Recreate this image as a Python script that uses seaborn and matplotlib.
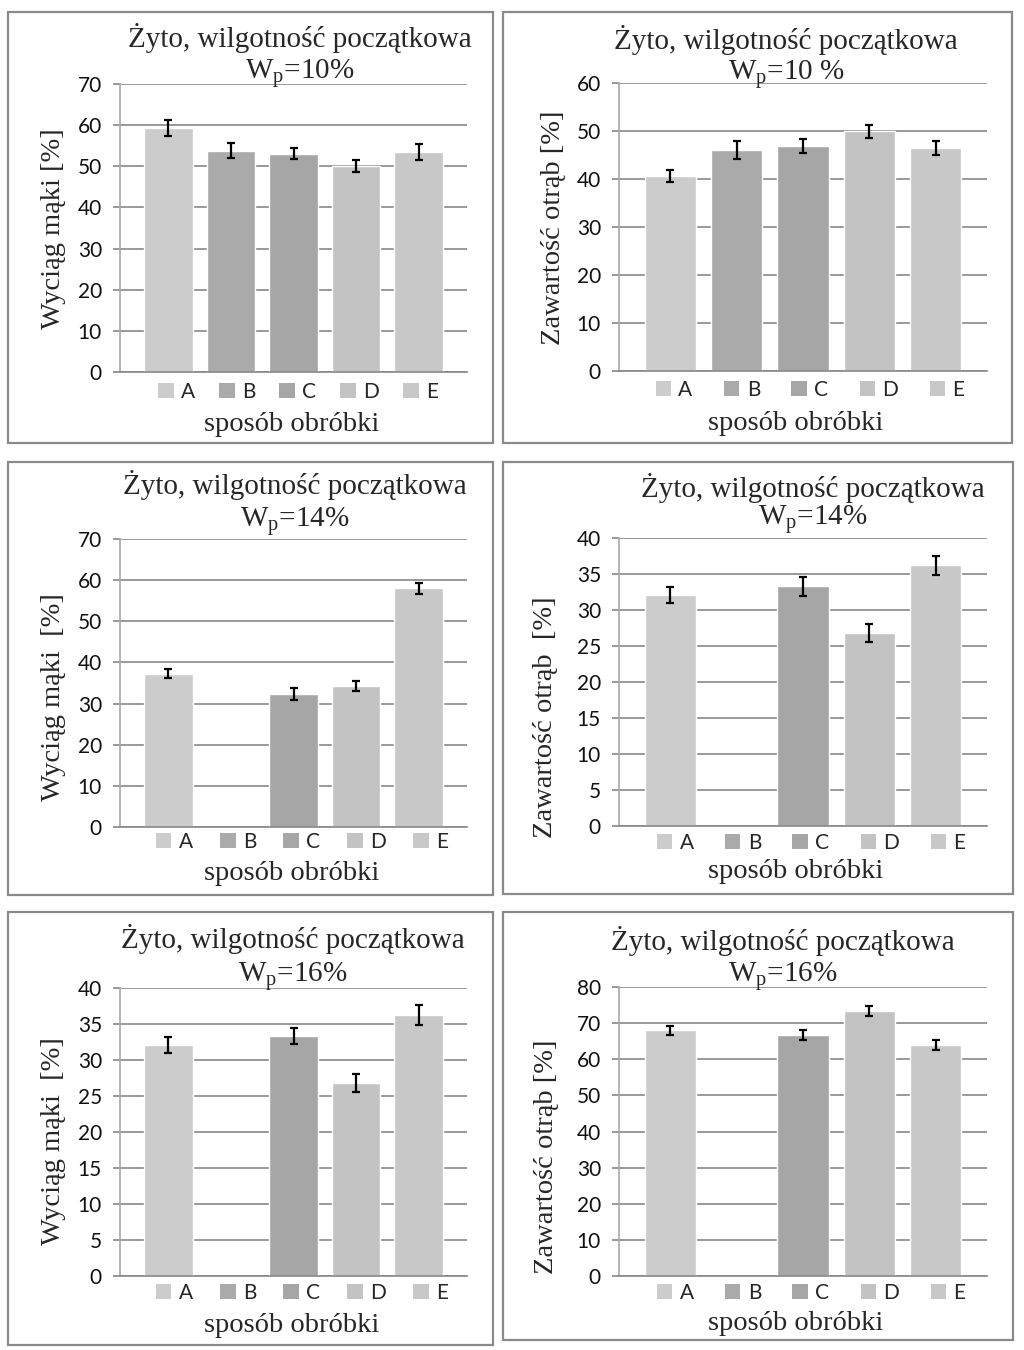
import numpy as np
import pandas as pd
import seaborn as sns
import matplotlib.pyplot as plt
from matplotlib.patches import Patch, Rectangle

sns.set_theme(style='white')
plt.rcParams['font.family'] = ['Liberation Serif', 'DejaVu Serif']
plt.rcParams['mathtext.fontset'] = 'custom'
plt.rcParams['mathtext.rm'] = 'Liberation Serif'

W, H = 1024, 1350

cats = ['A', 'B', 'C', 'D', 'E']
bar_colors = ['#cccccc', '#aaaaaa', '#a6a6a6', '#c3c3c3', '#c8c8c8']

flour_10 = [59.3, 53.8, 53.1, 50.1, 53.5]
flour_10_err = [1.9, 1.9, 1.3, 1.5, 1.9]
bran_10 = [40.6, 46.1, 46.9, 49.9, 46.5]
bran_10_err = [1.2, 1.9, 1.5, 1.3, 1.5]

flour_14 = [37.3, np.nan, 32.3, 34.3, 58.0]
flour_14_err = [1.1, np.nan, 1.4, 1.3, 1.4]
bran_14 = [32.1, np.nan, 33.3, 26.8, 36.2]
bran_14_err = [1.15, np.nan, 1.35, 1.25, 1.35]

flour_16 = [32.1, np.nan, 33.3, 26.8, 36.2]
flour_16_err = [1.15, np.nan, 1.1, 1.3, 1.4]
bran_16 = [68.0, np.nan, 66.7, 73.3, 63.9]
bran_16_err = [1.2, np.nan, 1.4, 1.4, 1.4]

title_line = 'Żyto, wilgotność początkowa'
xlabel = 'sposób obróbki'

GRID = '#878787'
SANS = 'Lato'


def fx(x):
    return x / W


def fy(y):
    return 1 - y / H


fig = plt.figure(figsize=(W / 100, H / 100), dpi=100)

# panel frames (pixel boxes: left, top, right, bottom)
frames = [(8, 12, 493, 443), (503, 12, 1012, 443),
          (8, 462, 493, 895), (503, 462, 1013, 894),
          (8, 912, 493, 1345), (503, 912, 1013, 1340)]
for l, t, r, b in frames:
    fig.add_artist(Rectangle((fx(l), fy(b)), fx(r - l), (b - t) / H,
                             transform=fig.transFigure, fill=False,
                             edgecolor='#8a8a8a', linewidth=1.6))

panels = [
    # values, errors, ymax, step, ylabel, wp text, axes box px, title x, title baselines, ylabel pos, legend pos, xlabel pos, colspacing
    (flour_10, flour_10_err, 70, 10, 'Wyciąg mąki [%]', r'W$_\mathregular{p}$=10%',
     (120, 84, 467, 372), 300, (47, 79), (60, 229), (298, 392), (292, 431), 1.15),
    (bran_10, bran_10_err, 60, 10, 'Zawartość otrąb [%]', r'W$_\mathregular{p}$=10 %',
     (619, 83, 987, 371), 786, (49, 80), (560, 228), (810, 390), (796, 430), 1.5),
    (flour_14, flour_14_err, 70, 10, 'Wyciąg mąki  [%]', r'W$_\mathregular{p}$=14%',
     (120, 539, 467, 827), 295, (494, 527), (60, 697), (302, 842), (292, 880), 1.3),
    (bran_14, bran_14_err, 40, 5, 'Zawartość otrąb  [%]', r'W$_\mathregular{p}$=14%',
     (619, 538, 987, 826), 813, (497, 525), (552, 717), (811, 843), (796, 878), 1.5),
    (flour_16, flour_16_err, 40, 5, 'Wyciąg mąki  [%]', r'W$_\mathregular{p}$=16%',
     (120, 988, 467, 1276), 293, (948, 982), (60, 1141), (302, 1293), (292, 1332), 1.3),
    (bran_16, bran_16_err, 80, 10, 'Zawartość otrąb [%]', r'W$_\mathregular{p}$=16%',
     (619, 987, 987, 1276), 783, (950, 982), (553, 1157), (811, 1293), (796, 1330), 1.5),
]

for vals, errs, ymax, step, ylab, wp, box, tx, tys, ylpos, lgpos, xlpos, colsp in panels:
    l, t, r, b = box
    ax = fig.add_axes([fx(l), fy(b), fx(r - l), (b - t) / H])
    df = pd.DataFrame({'cat': cats, 'val': vals})
    sns.barplot(data=df, x='cat', y='val', hue='cat', order=cats, hue_order=cats,
                palette=dict(zip(cats, bar_colors)), saturation=1, width=0.775,
                legend=False, ax=ax, zorder=2)
    ax.errorbar(np.arange(len(cats)), vals, yerr=errs, fmt='none', ecolor='black',
                elinewidth=1.6, capsize=3.2, capthick=1.6, zorder=3)
    ax.set_xlim(-0.775, 4.775)
    ax.set_ylim(0, ymax)
    ax.set_yticks(np.arange(0, ymax + 1, step))
    ax.set_xticks([])
    ax.set_xlabel('')
    ax.set_ylabel('')
    ax.yaxis.grid(True, color=GRID, linewidth=1.2, zorder=0)
    ax.set_axisbelow(True)
    for s in ['top', 'right']:
        ax.spines[s].set_visible(False)
    ax.spines['left'].set_color('#a8a8a8')
    ax.spines['left'].set_linewidth(1.2)
    ax.spines['bottom'].set_color(GRID)
    ax.spines['bottom'].set_linewidth(1.2)
    ax.tick_params(axis='y', direction='out', length=5, width=1.2, color=GRID,
                   pad=8, labelsize=15, left=True)
    for lb in ax.get_yticklabels():
        lb.set_fontfamily(SANS)
        lb.set_color('#111111')

    fig.text(fx(tx), fy(tys[0]), title_line, ha='center', va='baseline', fontsize=21)
    fig.text(fx(tx), fy(tys[1]), wp, ha='center', va='baseline', fontsize=21)
    fig.text(fx(ylpos[0]), fy(ylpos[1]), ylab, rotation=90, rotation_mode='anchor',
             ha='center', va='baseline', fontsize=20.5)
    fig.text(fx(xlpos[0]), fy(xlpos[1]), xlabel, ha='center', va='baseline', fontsize=20.5)

    handles = [Patch(facecolor=c, edgecolor='none') for c in bar_colors]
    ax.legend(handles, cats, loc='center', bbox_to_anchor=(fx(lgpos[0]), fy(lgpos[1])),
              bbox_transform=fig.transFigure, ncol=5, frameon=False,
              handlelength=0.75, handleheight=0.75, handletextpad=0.35,
              columnspacing=colsp, borderpad=0, prop={'family': SANS, 'size': 15})

fig.savefig('out.png', dpi=100)
